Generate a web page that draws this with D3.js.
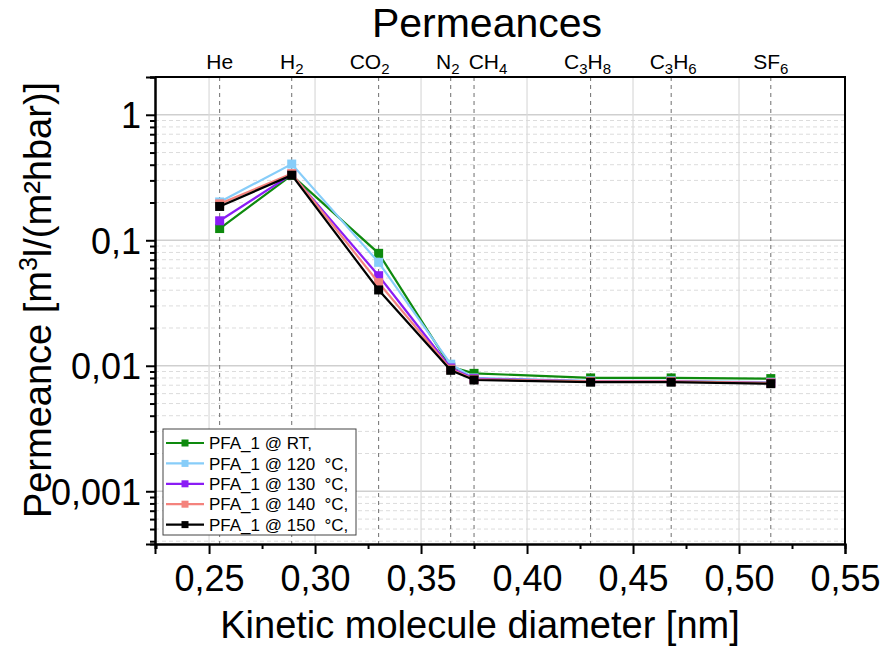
<!DOCTYPE html>
<html>
<head>
<meta charset="utf-8">
<script src="https://cdn.jsdelivr.net/npm/d3@7/dist/d3.min.js"></script>
<style>
  html, body { margin: 0; padding: 0; background: #fff; }
  svg { display: block; font-family: "Liberation Sans", Arial, Helvetica, sans-serif; }
</style>
</head>
<body>
<svg id="chart" width="882" height="654"></svg>
<script>
// Gas species: label parts (text, isSubscript) and kinetic diameter in nm
const gases = [
  { parts: [["He", false]], d: 0.255 },
  { parts: [["H", false], ["2", true]], d: 0.289 },
  { parts: [["CO", false], ["2", true]], d: 0.330 },
  { parts: [["N", false], ["2", true]], d: 0.364 },
  { parts: [["CH", false], ["4", true]], d: 0.375 },
  { parts: [["C", false], ["3", true], ["H", false], ["8", true]], d: 0.430 },
  { parts: [["C", false], ["3", true], ["H", false], ["6", true]], d: 0.468 },
  { parts: [["SF", false], ["6", true]], d: 0.515 }
];

// Permeance [m3/(m2 h bar)] per gas, in the order above
const seriesNames = ["PFA_1 @ RT,", "PFA_1 @ 120  °C,", "PFA_1 @ 130  °C,", "PFA_1 @ 140  °C,", "PFA_1 @ 150  °C,"];
const seriesColors = ["#0e8a0e", "#87cdf9", "#8a1cf5", "#f4837d", "#000000"];
const permRT  = [0.124, 0.330, 0.0787, 0.0098, 0.0087, 0.0080, 0.0080, 0.0079];
const perm120 = [0.202, 0.405, 0.0667, 0.0103, 0.0080, 0.0076, 0.0076, 0.0074];
const perm130 = [0.143, 0.335, 0.0522, 0.0096, 0.0079, 0.0075, 0.0075, 0.0073];
const perm140 = [0.195, 0.340, 0.0459, 0.0094, 0.0078, 0.0075, 0.0075, 0.0073];
const perm150 = [0.186, 0.330, 0.0402, 0.0092, 0.0077, 0.0074, 0.0074, 0.0072];
const seriesValues = [permRT, perm120, perm130, perm140, perm150];

const xTicks = [0.25, 0.30, 0.35, 0.40, 0.45, 0.50, 0.55];
const xMinorTicks = [0.225, 0.275, 0.325, 0.375, 0.425, 0.475, 0.525];
const yTicks = [1, 0.1, 0.01, 0.001];
const yTickLabels = ["1", "0,1", "0,01", "0,001"];

// horizontal nudges (px) for the gas labels so neighbouring labels do not collide
const gasLabelNudge = [0, 0, -9, -3, 14, -3, 2, 0];

const svg = d3.select("#chart");
const L = 155, R = 845, T = 77, B = 544;

const x = d3.scaleLinear().domain([0.2245, 0.55]).range([L, R]);
const y = d3.scaleLog().domain([0.00038, 2]).range([B, T]);

// minor log ticks 2..9 per decade inside the domain
const yMinor = [];
for (let e = -4; e <= 0; e++) {
  for (let k = 2; k <= 9; k++) {
    const v = k * Math.pow(10, e);
    if (v >= y.domain()[0] && v <= y.domain()[1]) yMinor.push(v);
  }
}

const grid = svg.append("g");
// minor horizontal grid (dashed)
grid.selectAll("line.ymin").data(yMinor).join("line")
  .attr("x1", L).attr("x2", R)
  .attr("y1", d => y(d)).attr("y2", d => y(d))
  .attr("stroke", "#dcdcdc").attr("stroke-width", 1).attr("stroke-dasharray", "4,3");
// major horizontal grid
grid.selectAll("line.ymaj").data(yTicks).join("line")
  .attr("x1", L).attr("x2", R)
  .attr("y1", d => y(d)).attr("y2", d => y(d))
  .attr("stroke", "#cfcfcf").attr("stroke-width", 1.5);
// major vertical grid
grid.selectAll("line.xmaj").data(xTicks).join("line")
  .attr("x1", d => x(d)).attr("x2", d => x(d))
  .attr("y1", T).attr("y2", B)
  .attr("stroke", "#dadada").attr("stroke-width", 1.2);

// gas reference lines
svg.append("g").selectAll("line").data(gases).join("line")
  .attr("x1", d => x(d.d)).attr("x2", d => x(d.d))
  .attr("y1", T).attr("y2", B)
  .attr("stroke", "#6e6e6e").attr("stroke-width", 1).attr("stroke-dasharray", "4,4");

// series lines and markers
const line = d3.line().x((v, i) => x(gases[i].d)).y(v => y(v));
const series = svg.append("g");
seriesValues.forEach((vals, s) => {
  const g = series.append("g");
  g.append("path").datum(vals)
    .attr("d", line).attr("fill", "none")
    .attr("stroke", seriesColors[s]).attr("stroke-width", 2.2);
  g.selectAll("rect").data(vals).join("rect")
    .attr("x", (v, i) => x(gases[i].d) - 4.5)
    .attr("y", v => y(v) - 4.5)
    .attr("width", 9).attr("height", 9)
    .attr("fill", seriesColors[s]);
});

// axes
const xAxis = svg.append("g").attr("transform", `translate(0,${B})`)
  .call(d3.axisBottom(x).tickValues(xTicks).tickSize(10).tickPadding(10)
    .tickFormat(d => d3.format(".2f")(d).replace(".", ",")));
const xMinorAxis = svg.append("g").attr("transform", `translate(0,${B})`)
  .call(d3.axisBottom(x).tickValues(xMinorTicks).tickSize(5).tickFormat(""));
const yAxis = svg.append("g").attr("transform", `translate(${L},0)`)
  .call(d3.axisLeft(y).tickValues(yTicks).tickSize(9).tickPadding(5)
    .tickFormat((d, i) => yTickLabels[i]));
const yMinorAxis = svg.append("g").attr("transform", `translate(${L},0)`)
  .call(d3.axisLeft(y).tickValues(yMinor).tickSize(5).tickFormat(""));

[xAxis, xMinorAxis, yAxis, yMinorAxis].forEach(a => {
  a.select(".domain").attr("stroke", "#000").attr("stroke-width", 2);
  a.selectAll(".tick line").attr("stroke", "#000").attr("stroke-width", 2);
  a.selectAll(".tick text").attr("fill", "#000").style("font-size", "36px")
    .style("font-family", "'Liberation Sans', Arial, sans-serif");
});
xAxis.selectAll(".tick text").attr("dy", "0.75em");
yAxis.selectAll(".tick text").attr("dy", "0.36em");

// top and right frame
svg.append("line").attr("x1", L).attr("x2", R + 1).attr("y1", T).attr("y2", T)
  .attr("stroke", "#000").attr("stroke-width", 2);
svg.append("line").attr("x1", R).attr("x2", R).attr("y1", T).attr("y2", B)
  .attr("stroke", "#000").attr("stroke-width", 2);

// gas labels above the frame
const gl = svg.append("g").selectAll("text").data(gases).join("text")
  .attr("x", (d, i) => x(d.d) + gasLabelNudge[i]).attr("y", 69)
  .attr("text-anchor", "middle").style("font-size", "21px").attr("fill", "#000");
gl.each(function (d) {
  const t = d3.select(this);
  let shifted = false;
  d.parts.forEach(([txt, sub]) => {
    const ts = t.append("tspan").text(txt);
    if (sub && !shifted) { ts.attr("dy", 5).style("font-size", "15px"); shifted = true; }
    else if (sub) { ts.style("font-size", "15px"); }
    else if (!sub && shifted) { ts.attr("dy", -5); shifted = false; }
  });
});

// chart title
svg.append("text").attr("x", 487).attr("y", 37).attr("text-anchor", "middle")
  .style("font-size", "41px").attr("fill", "#000").text("Permeances");

// axis titles
svg.append("text").attr("x", 480).attr("y", 638).attr("text-anchor", "middle")
  .style("font-size", "38px").attr("fill", "#000").text("Kinetic molecule diameter [nm]");
const yt = svg.append("text")
  .attr("transform", "translate(51,300) rotate(-90)")
  .attr("text-anchor", "middle").style("font-size", "38px").attr("fill", "#000");
yt.append("tspan").text("Permeance [m");
yt.append("tspan").text("3").attr("dy", -14).style("font-size", "25px");
yt.append("tspan").text("l/(m²hbar)]").attr("dy", 14);

// legend
const lg = svg.append("g");
lg.append("rect").attr("x", 163).attr("y", 429).attr("width", 193).attr("height", 106)
  .attr("fill", "#fff").attr("stroke", "#444").attr("stroke-width", 1);
seriesNames.forEach((name, s) => {
  const cy = 443 + s * 20.4;
  lg.append("line").attr("x1", 166).attr("x2", 204).attr("y1", cy).attr("y2", cy)
    .attr("stroke", seriesColors[s]).attr("stroke-width", 2.2);
  lg.append("rect").attr("x", 185 - 3.5).attr("y", cy - 3.5).attr("width", 7).attr("height", 7)
    .attr("fill", seriesColors[s]);
  lg.append("text").attr("x", 209).attr("y", cy).attr("dy", "0.36em")
    .style("font-size", "17px").attr("fill", "#000")
    .attr("xml:space", "preserve").style("white-space", "pre").text(name);
});
</script>
</body>
</html>
